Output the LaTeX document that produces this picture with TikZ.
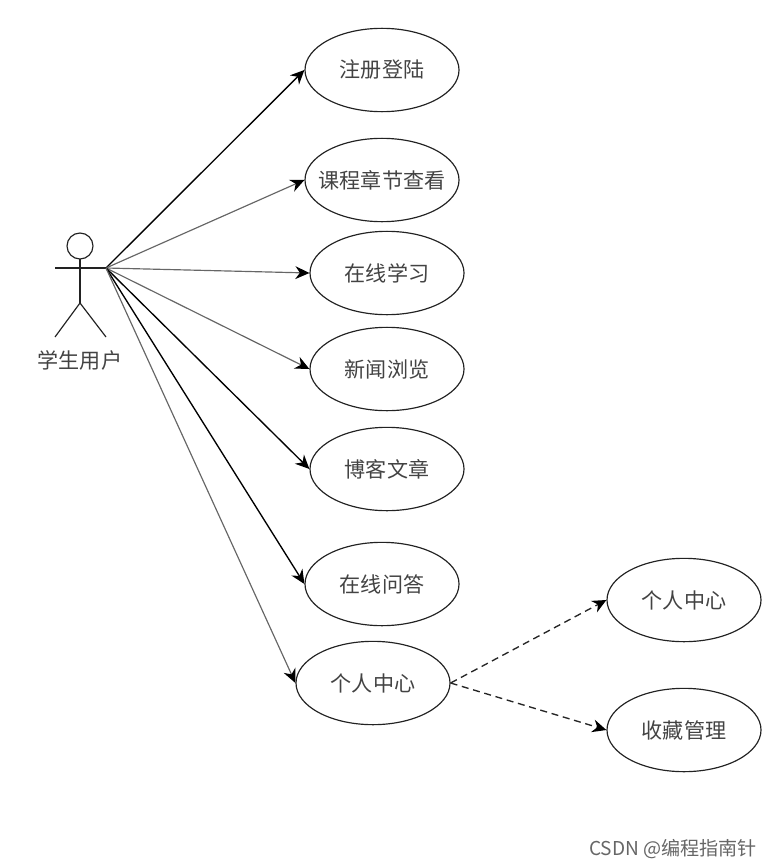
\documentclass[tikz,border=0pt]{standalone}
\usepackage{fontspec}
\usepackage{xcolor}
\usetikzlibrary{arrows.meta}
\usetikzlibrary{shapes.geometric}
\newfontfamily\cjk{Noto Sans CJK SC}
\definecolor{inkdark}{HTML}{222222}
\definecolor{inkgray}{HTML}{666666}
\tikzset{
  usecase/.style={draw=inkdark,line width=1pt,ellipse,minimum width=4.62cm,minimum height=2.5cm,
    inner sep=-0.8cm,text=inkdark!85,font=\cjk\fontsize{18}{20}\selectfont},
  actorline/.style={draw=inkdark,line width=1pt},
  solidlink/.style={draw=black,line width=1.15pt,-{Stealth[length=12pt,width=11pt]}},
  graylink/.style={draw=inkgray,line width=1pt,-{Stealth[length=12pt,width=11pt,color=black]}},
  dashlink/.style={draw=black!85,line width=1.15pt,dash pattern=on 6pt off 4pt,-{Stealth[length=12pt,width=11pt,color=black]}},
}
\begin{document}
\begin{tikzpicture}[x=0.03cm,y=-0.03cm]
  \useasboundingbox (0,0) rectangle (775,867);
  % Actor
  \draw[actorline] (80,246) circle (13);
  \draw[actorline] (80,259) -- (80,303);
  \draw[actorline] (55,268) -- (106,268);
  \draw[actorline] (55,337) -- (80,303) -- (106,337);
  \coordinate (hand) at (106,268);
  \node[text=inkdark!85,font=\cjk\fontsize{18}{20}\selectfont] (student) at (80,360) {学生用户};
  % Use cases of the student
  \node[usecase] (login) at (382,70) {注册登陆};
  \node[usecase] (chapter) at (382,180) {课程章节查看};
  \node[usecase] (study) at (387,273) {在线学习};
  \node[usecase] (news) at (387,369) {新闻浏览};
  \node[usecase] (blog) at (387,469) {博客文章};
  \node[usecase] (answer) at (382,584) {在线问答};
  \node[usecase] (center) at (373,683) {个人中心};
  % Extensions of the personal center
  \node[usecase] (profile) at (684,600) {个人中心};
  \node[usecase] (favorite) at (684,730) {收藏管理};
  % Connectors
  \draw[solidlink] (hand) -- (login.west);
  \draw[graylink] (hand) -- (chapter.west);
  \draw[graylink] (hand) -- (study.west);
  \draw[graylink] (hand) -- (news.west);
  \draw[solidlink] (hand) -- (blog.west);
  \draw[solidlink] (hand) -- (answer.west);
  \draw[graylink] (hand) -- (center.west);
  \draw[dashlink] (center.east) -- (profile.west);
  \draw[dashlink] (center.east) -- (favorite.west);
  % Watermark
  \node[text=inkgray,anchor=east,font=\cjk\fontsize{16.3}{18}\selectfont] (mark) at (761,849) {CSDN @编程指南针};
\end{tikzpicture}
\end{document}
